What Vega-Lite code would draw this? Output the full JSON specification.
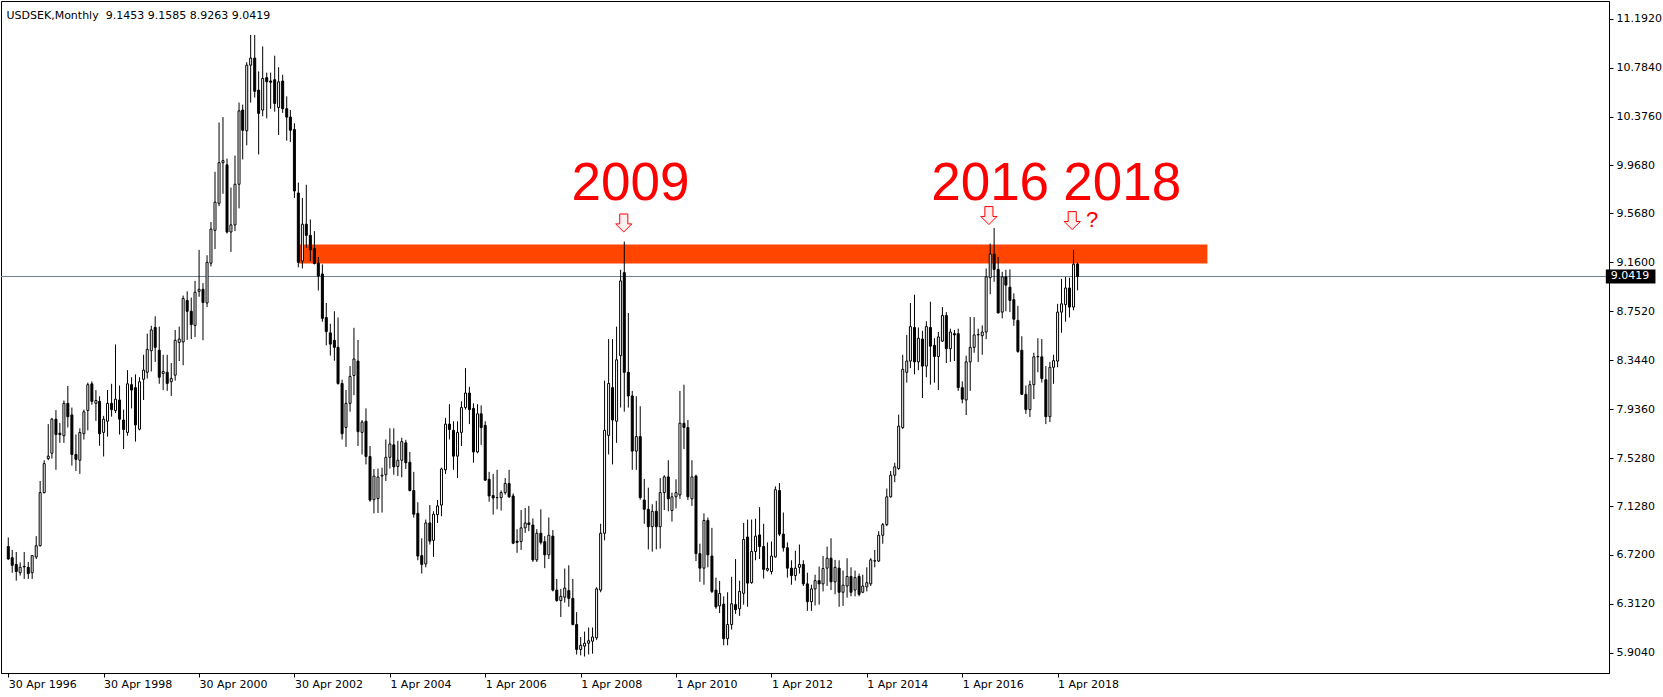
{
  "$schema": "https://vega.github.io/schema/vega-lite/v6.json",
  "width": 1608,
  "height": 672,
  "autosize": {"type": "none"},
  "padding": {"left": 1, "top": 1, "right": 54, "bottom": 24},
  "background": "#ffffff",
  "title": {"text": "USDSEK,Monthly\u00a0\u00a09.1453 9.1585 8.9263 9.0419", "anchor": "start", "orient": "top", "offset": -17, "baseline": "alphabetic", "font": "DejaVu Sans", "fontSize": 11, "fontWeight": "normal", "color": "#000000", "dx": 6, "dy": 12},
  "config": {
    "view": {"stroke": "#000000", "strokeWidth": 1},
    "axis": {"labelFont": "DejaVu Sans", "labelFontSize": 11, "labelColor": "#000000", "domainColor": "#000000", "tickColor": "#000000", "grid": false, "title": null}
  },
  "datasets": {
    "candles": [
      {"d":"1996-04-01","o":6.79,"h":6.866,"l":6.68,"c":6.686},
      {"d":"1996-05-01","o":6.697,"h":6.762,"l":6.572,"c":6.634},
      {"d":"1996-06-01","o":6.641,"h":6.745,"l":6.506,"c":6.582},
      {"d":"1996-07-01","o":6.572,"h":6.658,"l":6.548,"c":6.617},
      {"d":"1996-08-01","o":6.62,"h":6.745,"l":6.52,"c":6.625},
      {"d":"1996-09-01","o":6.617,"h":6.662,"l":6.52,"c":6.565},
      {"d":"1996-10-01","o":6.572,"h":6.72,"l":6.52,"c":6.714},
      {"d":"1996-11-01","o":6.703,"h":6.877,"l":6.686,"c":6.797},
      {"d":"1996-12-01","o":6.797,"h":7.337,"l":6.79,"c":7.24},
      {"d":"1997-01-01","o":7.24,"h":7.51,"l":7.233,"c":7.482},
      {"d":"1997-02-01","o":7.524,"h":7.811,"l":7.51,"c":7.544},
      {"d":"1997-03-01","o":7.568,"h":7.863,"l":7.524,"c":7.852},
      {"d":"1997-04-01","o":7.852,"h":7.928,"l":7.43,"c":7.724},
      {"d":"1997-05-01","o":7.735,"h":7.821,"l":7.655,"c":7.724},
      {"d":"1997-06-01","o":7.714,"h":8.008,"l":7.655,"c":7.984},
      {"d":"1997-07-01","o":7.984,"h":8.129,"l":7.783,"c":7.873},
      {"d":"1997-08-01","o":7.887,"h":7.949,"l":7.465,"c":7.558},
      {"d":"1997-09-01","o":7.558,"h":7.724,"l":7.42,"c":7.517},
      {"d":"1997-10-01","o":7.51,"h":7.776,"l":7.396,"c":7.741},
      {"d":"1997-11-01","o":7.731,"h":7.932,"l":7.683,"c":7.914},
      {"d":"1997-12-01","o":7.925,"h":8.157,"l":7.759,"c":8.14},
      {"d":"1998-01-01","o":8.147,"h":8.167,"l":7.973,"c":8.001},
      {"d":"1998-02-01","o":7.984,"h":8.095,"l":7.838,"c":8.008},
      {"d":"1998-03-01","o":8.001,"h":8.043,"l":7.631,"c":7.731},
      {"d":"1998-04-01","o":7.742,"h":7.88,"l":7.541,"c":7.852},
      {"d":"1998-05-01","o":7.835,"h":8.095,"l":7.707,"c":7.984},
      {"d":"1998-06-01","o":7.984,"h":8.147,"l":7.873,"c":7.932},
      {"d":"1998-07-01","o":7.925,"h":8.475,"l":7.904,"c":8.019},
      {"d":"1998-08-01","o":8.012,"h":8.133,"l":7.724,"c":7.852},
      {"d":"1998-09-01","o":7.845,"h":7.932,"l":7.603,"c":7.766},
      {"d":"1998-10-01","o":7.742,"h":8.261,"l":7.714,"c":8.147},
      {"d":"1998-11-01","o":8.14,"h":8.202,"l":7.942,"c":8.095},
      {"d":"1998-12-01","o":8.115,"h":8.226,"l":7.665,"c":7.804},
      {"d":"1999-01-01","o":7.769,"h":8.202,"l":7.759,"c":8.164},
      {"d":"1999-02-01","o":8.185,"h":8.389,"l":8.012,"c":8.261},
      {"d":"1999-03-01","o":8.243,"h":8.565,"l":8.191,"c":8.434},
      {"d":"1999-04-01","o":8.423,"h":8.631,"l":8.25,"c":8.596},
      {"d":"1999-05-01","o":8.617,"h":8.71,"l":8.33,"c":8.451},
      {"d":"1999-06-01","o":8.427,"h":8.624,"l":8.147,"c":8.202},
      {"d":"1999-07-01","o":8.233,"h":8.389,"l":8.095,"c":8.25},
      {"d":"1999-08-01","o":8.243,"h":8.389,"l":8.088,"c":8.15},
      {"d":"1999-09-01","o":8.164,"h":8.32,"l":8.046,"c":8.191},
      {"d":"1999-10-01","o":8.219,"h":8.596,"l":8.174,"c":8.51},
      {"d":"1999-11-01","o":8.492,"h":8.624,"l":8.337,"c":8.52},
      {"d":"1999-12-01","o":8.496,"h":8.883,"l":8.302,"c":8.859},
      {"d":"2000-01-01","o":8.842,"h":8.918,"l":8.513,"c":8.752},
      {"d":"2000-02-01","o":8.752,"h":8.866,"l":8.52,"c":8.641},
      {"d":"2000-03-01","o":8.634,"h":9.005,"l":8.537,"c":8.911},
      {"d":"2000-04-01","o":8.918,"h":9.264,"l":8.873,"c":8.935},
      {"d":"2000-05-01","o":8.935,"h":8.987,"l":8.51,"c":8.825},
      {"d":"2000-06-01","o":8.821,"h":9.219,"l":8.787,"c":9.16},
      {"d":"2000-07-01","o":9.153,"h":9.496,"l":9.126,"c":9.437},
      {"d":"2000-08-01","o":9.427,"h":9.915,"l":9.271,"c":9.662},
      {"d":"2000-09-01","o":9.652,"h":10.326,"l":9.628,"c":9.991},
      {"d":"2000-10-01","o":9.991,"h":10.371,"l":9.731,"c":10.008},
      {"d":"2000-11-01","o":9.973,"h":10.025,"l":9.4,"c":9.413},
      {"d":"2000-12-01","o":9.413,"h":9.783,"l":9.247,"c":9.472},
      {"d":"2001-01-01","o":9.472,"h":10.05,"l":9.42,"c":9.811},
      {"d":"2001-02-01","o":9.811,"h":10.492,"l":9.61,"c":10.423},
      {"d":"2001-03-01","o":10.43,"h":10.475,"l":10.018,"c":10.261},
      {"d":"2001-04-01","o":10.257,"h":10.828,"l":10.136,"c":10.804},
      {"d":"2001-05-01","o":10.804,"h":11.056,"l":10.492,"c":10.863},
      {"d":"2001-06-01","o":10.863,"h":11.056,"l":10.534,"c":10.586},
      {"d":"2001-07-01","o":10.596,"h":10.752,"l":10.06,"c":10.402},
      {"d":"2001-08-01","o":10.43,"h":10.96,"l":10.378,"c":10.693},
      {"d":"2001-09-01","o":10.7,"h":10.742,"l":10.361,"c":10.666},
      {"d":"2001-10-01","o":10.672,"h":10.742,"l":10.44,"c":10.662},
      {"d":"2001-11-01","o":10.683,"h":10.883,"l":10.416,"c":10.485},
      {"d":"2001-12-01","o":10.451,"h":10.787,"l":10.222,"c":10.665},
      {"d":"2002-01-01","o":10.672,"h":10.724,"l":10.406,"c":10.441},
      {"d":"2002-02-01","o":10.441,"h":10.544,"l":10.174,"c":10.371},
      {"d":"2002-03-01","o":10.371,"h":10.43,"l":10.164,"c":10.261},
      {"d":"2002-04-01","o":10.268,"h":10.32,"l":9.697,"c":9.755},
      {"d":"2002-05-01","o":9.738,"h":9.825,"l":9.119,"c":9.16},
      {"d":"2002-06-01","o":9.171,"h":9.697,"l":9.109,"c":9.478},
      {"d":"2002-07-01","o":9.478,"h":9.807,"l":9.281,"c":9.385},
      {"d":"2002-08-01","o":9.385,"h":9.517,"l":9.171,"c":9.264},
      {"d":"2002-09-01","o":9.274,"h":9.42,"l":9.143,"c":9.15},
      {"d":"2002-10-01","o":9.153,"h":9.205,"l":8.925,"c":9.046},
      {"d":"2002-11-01","o":9.063,"h":9.143,"l":8.665,"c":8.693},
      {"d":"2002-12-01","o":8.7,"h":8.821,"l":8.468,"c":8.582},
      {"d":"2003-01-01","o":8.572,"h":8.648,"l":8.382,"c":8.478},
      {"d":"2003-02-01","o":8.51,"h":8.752,"l":8.34,"c":8.451},
      {"d":"2003-03-01","o":8.451,"h":8.7,"l":8.14,"c":8.15},
      {"d":"2003-04-01","o":8.15,"h":8.181,"l":7.683,"c":7.731},
      {"d":"2003-05-01","o":7.783,"h":8.095,"l":7.621,"c":7.984},
      {"d":"2003-06-01","o":7.984,"h":8.295,"l":7.915,"c":8.209},
      {"d":"2003-07-01","o":8.216,"h":8.614,"l":8.053,"c":8.354},
      {"d":"2003-08-01","o":8.337,"h":8.513,"l":7.628,"c":7.748},
      {"d":"2003-09-01","o":7.742,"h":7.845,"l":7.558,"c":7.828},
      {"d":"2003-10-01","o":7.835,"h":7.942,"l":7.475,"c":7.541},
      {"d":"2003-11-01","o":7.541,"h":7.628,"l":7.164,"c":7.178},
      {"d":"2003-12-01","o":7.181,"h":7.437,"l":7.067,"c":7.378},
      {"d":"2004-01-01","o":7.19,"h":7.44,"l":7.07,"c":7.37},
      {"d":"2004-02-01","o":7.378,"h":7.448,"l":7.074,"c":7.385},
      {"d":"2004-03-01","o":7.389,"h":7.683,"l":7.337,"c":7.534},
      {"d":"2004-04-01","o":7.534,"h":7.776,"l":7.441,"c":7.645},
      {"d":"2004-05-01","o":7.638,"h":7.776,"l":7.389,"c":7.455},
      {"d":"2004-06-01","o":7.458,"h":7.672,"l":7.378,"c":7.51},
      {"d":"2004-07-01","o":7.51,"h":7.697,"l":7.368,"c":7.665},
      {"d":"2004-08-01","o":7.655,"h":7.68,"l":7.437,"c":7.489},
      {"d":"2004-09-01","o":7.493,"h":7.579,"l":7.25,"c":7.257},
      {"d":"2004-10-01","o":7.257,"h":7.413,"l":7.032,"c":7.06},
      {"d":"2004-11-01","o":7.067,"h":7.16,"l":6.676,"c":6.711},
      {"d":"2004-12-01","o":6.714,"h":6.859,"l":6.565,"c":6.641},
      {"d":"2005-01-01","o":6.645,"h":7.015,"l":6.617,"c":6.987},
      {"d":"2005-02-01","o":6.987,"h":7.136,"l":6.807,"c":6.835},
      {"d":"2005-03-01","o":6.842,"h":7.084,"l":6.704,"c":7.06},
      {"d":"2005-04-01","o":7.056,"h":7.178,"l":6.987,"c":7.129},
      {"d":"2005-05-01","o":7.136,"h":7.448,"l":7.043,"c":7.437},
      {"d":"2005-06-01","o":7.43,"h":7.863,"l":7.396,"c":7.811},
      {"d":"2005-07-01","o":7.811,"h":7.977,"l":7.683,"c":7.766},
      {"d":"2005-08-01","o":7.759,"h":7.835,"l":7.43,"c":7.544},
      {"d":"2005-09-01","o":7.544,"h":7.835,"l":7.361,"c":7.742},
      {"d":"2005-10-01","o":7.742,"h":8.001,"l":7.628,"c":7.949},
      {"d":"2005-11-01","o":7.949,"h":8.278,"l":7.932,"c":8.07},
      {"d":"2005-12-01","o":8.07,"h":8.122,"l":7.811,"c":7.932},
      {"d":"2006-01-01","o":7.942,"h":7.984,"l":7.489,"c":7.579},
      {"d":"2006-02-01","o":7.579,"h":7.977,"l":7.568,"c":7.897},
      {"d":"2006-03-01","o":7.897,"h":7.967,"l":7.638,"c":7.783},
      {"d":"2006-04-01","o":7.801,"h":7.835,"l":7.337,"c":7.344},
      {"d":"2006-05-01","o":7.351,"h":7.413,"l":7.164,"c":7.212},
      {"d":"2006-06-01","o":7.215,"h":7.396,"l":7.057,"c":7.195},
      {"d":"2006-07-01","o":7.198,"h":7.43,"l":7.101,"c":7.199},
      {"d":"2006-08-01","o":7.198,"h":7.257,"l":7.091,"c":7.24},
      {"d":"2006-09-01","o":7.24,"h":7.361,"l":7.223,"c":7.316},
      {"d":"2006-10-01","o":7.316,"h":7.43,"l":7.195,"c":7.205},
      {"d":"2006-11-01","o":7.212,"h":7.233,"l":6.81,"c":6.818},
      {"d":"2006-12-01","o":6.835,"h":6.935,"l":6.738,"c":6.825},
      {"d":"2007-01-01","o":6.831,"h":7.095,"l":6.762,"c":6.946},
      {"d":"2007-02-01","o":6.946,"h":7.112,"l":6.904,"c":6.987},
      {"d":"2007-03-01","o":6.987,"h":7.129,"l":6.918,"c":6.973},
      {"d":"2007-04-01","o":6.97,"h":7.025,"l":6.662,"c":6.679},
      {"d":"2007-05-01","o":6.679,"h":6.935,"l":6.662,"c":6.901},
      {"d":"2007-06-01","o":6.901,"h":7.101,"l":6.807,"c":6.825},
      {"d":"2007-07-01","o":6.831,"h":6.877,"l":6.61,"c":6.721},
      {"d":"2007-08-01","o":6.721,"h":7.032,"l":6.686,"c":6.884},
      {"d":"2007-09-01","o":6.877,"h":6.928,"l":6.416,"c":6.427},
      {"d":"2007-10-01","o":6.427,"h":6.52,"l":6.33,"c":6.34},
      {"d":"2007-11-01","o":6.34,"h":6.437,"l":6.202,"c":6.375},
      {"d":"2007-12-01","o":6.368,"h":6.607,"l":6.323,"c":6.444},
      {"d":"2008-01-01","o":6.423,"h":6.634,"l":6.288,"c":6.358},
      {"d":"2008-02-01","o":6.358,"h":6.52,"l":6.133,"c":6.14},
      {"d":"2008-03-01","o":6.14,"h":6.243,"l":5.89,"c":5.932},
      {"d":"2008-04-01","o":5.932,"h":6.036,"l":5.883,"c":5.967},
      {"d":"2008-05-01","o":5.96,"h":6.081,"l":5.873,"c":5.984},
      {"d":"2008-06-01","o":5.984,"h":6.115,"l":5.89,"c":6.005},
      {"d":"2008-07-01","o":6.001,"h":6.115,"l":5.897,"c":6.036},
      {"d":"2008-08-01","o":6.029,"h":6.451,"l":6.012,"c":6.437},
      {"d":"2008-09-01","o":6.427,"h":6.98,"l":6.409,"c":6.901},
      {"d":"2008-10-01","o":6.901,"h":8.174,"l":6.842,"c":7.759},
      {"d":"2008-11-01","o":7.717,"h":8.52,"l":7.558,"c":8.15},
      {"d":"2008-12-01","o":8.115,"h":8.52,"l":7.475,"c":7.845},
      {"d":"2009-01-01","o":7.835,"h":8.624,"l":7.655,"c":8.347},
      {"d":"2009-02-01","o":8.382,"h":9.098,"l":7.949,"c":9.005},
      {"d":"2009-03-01","o":9.074,"h":9.333,"l":7.915,"c":8.243},
      {"d":"2009-04-01","o":8.243,"h":8.738,"l":7.949,"c":8.046},
      {"d":"2009-05-01","o":8.046,"h":8.088,"l":7.43,"c":7.586},
      {"d":"2009-06-01","o":7.586,"h":8.043,"l":7.43,"c":7.707},
      {"d":"2009-07-01","o":7.707,"h":7.96,"l":7.181,"c":7.198},
      {"d":"2009-08-01","o":7.178,"h":7.354,"l":6.98,"c":7.101},
      {"d":"2009-09-01","o":7.101,"h":7.281,"l":6.766,"c":6.956},
      {"d":"2009-10-01","o":6.956,"h":7.143,"l":6.748,"c":7.084},
      {"d":"2009-11-01","o":7.084,"h":7.171,"l":6.766,"c":6.956},
      {"d":"2009-12-01","o":6.956,"h":7.361,"l":6.773,"c":7.24},
      {"d":"2010-01-01","o":7.24,"h":7.385,"l":7.095,"c":7.371},
      {"d":"2010-02-01","o":7.371,"h":7.51,"l":7.084,"c":7.188},
      {"d":"2010-03-01","o":7.091,"h":7.24,"l":6.998,"c":7.205},
      {"d":"2010-04-01","o":7.205,"h":7.351,"l":7.108,"c":7.24},
      {"d":"2010-05-01","o":7.22,"h":8.088,"l":7.188,"c":7.818},
      {"d":"2010-06-01","o":7.818,"h":8.14,"l":7.603,"c":7.783},
      {"d":"2010-07-01","o":7.783,"h":7.845,"l":7.178,"c":7.205},
      {"d":"2010-08-01","o":7.188,"h":7.51,"l":7.129,"c":7.371},
      {"d":"2010-09-01","o":7.378,"h":7.389,"l":6.669,"c":6.731},
      {"d":"2010-10-01","o":6.731,"h":6.814,"l":6.496,"c":6.61},
      {"d":"2010-11-01","o":6.61,"h":7.067,"l":6.472,"c":7.008},
      {"d":"2010-12-01","o":7.008,"h":7.032,"l":6.617,"c":6.721},
      {"d":"2011-01-01","o":6.711,"h":6.946,"l":6.402,"c":6.416},
      {"d":"2011-02-01","o":6.427,"h":6.531,"l":6.271,"c":6.288},
      {"d":"2011-03-01","o":6.295,"h":6.503,"l":6.236,"c":6.399},
      {"d":"2011-04-01","o":6.31,"h":6.375,"l":5.967,"c":6.022},
      {"d":"2011-05-01","o":6.022,"h":6.409,"l":5.967,"c":6.14},
      {"d":"2011-06-01","o":6.14,"h":6.538,"l":6.098,"c":6.313},
      {"d":"2011-07-01","o":6.306,"h":6.686,"l":6.229,"c":6.264},
      {"d":"2011-08-01","o":6.271,"h":6.506,"l":6.212,"c":6.416},
      {"d":"2011-09-01","o":6.4,"h":6.987,"l":6.306,"c":6.849},
      {"d":"2011-10-01","o":6.87,"h":7.015,"l":6.288,"c":6.485},
      {"d":"2011-11-01","o":6.489,"h":7.015,"l":6.48,"c":6.749},
      {"d":"2011-12-01","o":6.749,"h":7.022,"l":6.676,"c":6.877},
      {"d":"2012-01-01","o":6.887,"h":7.119,"l":6.686,"c":6.79},
      {"d":"2012-02-01","o":6.79,"h":6.98,"l":6.524,"c":6.6},
      {"d":"2012-03-01","o":6.593,"h":6.825,"l":6.582,"c":6.607},
      {"d":"2012-04-01","o":6.582,"h":6.832,"l":6.558,"c":6.711},
      {"d":"2012-05-01","o":6.704,"h":7.292,"l":6.697,"c":7.264},
      {"d":"2012-06-01","o":7.257,"h":7.32,"l":6.877,"c":6.894},
      {"d":"2012-07-01","o":6.894,"h":7.074,"l":6.748,"c":6.78},
      {"d":"2012-08-01","o":6.78,"h":6.825,"l":6.531,"c":6.61},
      {"d":"2012-09-01","o":6.61,"h":6.676,"l":6.472,"c":6.548},
      {"d":"2012-10-01","o":6.548,"h":6.755,"l":6.506,"c":6.61},
      {"d":"2012-11-01","o":6.617,"h":6.807,"l":6.565,"c":6.641},
      {"d":"2012-12-01","o":6.641,"h":6.676,"l":6.461,"c":6.479},
      {"d":"2013-01-01","o":6.479,"h":6.572,"l":6.254,"c":6.33},
      {"d":"2013-02-01","o":6.33,"h":6.472,"l":6.254,"c":6.437},
      {"d":"2013-03-01","o":6.437,"h":6.555,"l":6.299,"c":6.506},
      {"d":"2013-04-01","o":6.506,"h":6.624,"l":6.306,"c":6.479},
      {"d":"2013-05-01","o":6.479,"h":6.711,"l":6.416,"c":6.607},
      {"d":"2013-06-01","o":6.61,"h":6.79,"l":6.461,"c":6.693},
      {"d":"2013-07-01","o":6.693,"h":6.859,"l":6.427,"c":6.496},
      {"d":"2013-08-01","o":6.496,"h":6.679,"l":6.392,"c":6.617},
      {"d":"2013-09-01","o":6.61,"h":6.676,"l":6.288,"c":6.409},
      {"d":"2013-10-01","o":6.409,"h":6.59,"l":6.295,"c":6.468},
      {"d":"2013-11-01","o":6.461,"h":6.693,"l":6.364,"c":6.541},
      {"d":"2013-12-01","o":6.541,"h":6.617,"l":6.375,"c":6.409},
      {"d":"2014-01-01","o":6.427,"h":6.59,"l":6.375,"c":6.531},
      {"d":"2014-02-01","o":6.541,"h":6.565,"l":6.375,"c":6.392},
      {"d":"2014-03-01","o":6.409,"h":6.555,"l":6.402,"c":6.461},
      {"d":"2014-04-01","o":6.454,"h":6.617,"l":6.416,"c":6.489},
      {"d":"2014-05-01","o":6.479,"h":6.693,"l":6.461,"c":6.679},
      {"d":"2014-06-01","o":6.669,"h":6.762,"l":6.617,"c":6.672},
      {"d":"2014-07-01","o":6.669,"h":6.918,"l":6.662,"c":6.884},
      {"d":"2014-08-01","o":6.884,"h":6.987,"l":6.814,"c":6.973},
      {"d":"2014-09-01","o":6.973,"h":7.274,"l":6.96,"c":7.205},
      {"d":"2014-10-01","o":7.205,"h":7.42,"l":7.198,"c":7.385},
      {"d":"2014-11-01","o":7.385,"h":7.489,"l":7.327,"c":7.455},
      {"d":"2014-12-01","o":7.441,"h":7.89,"l":7.43,"c":7.794},
      {"d":"2015-01-01","o":7.783,"h":8.389,"l":7.77,"c":8.268},
      {"d":"2015-02-01","o":8.243,"h":8.555,"l":8.157,"c":8.337},
      {"d":"2015-03-01","o":8.337,"h":8.821,"l":8.278,"c":8.624},
      {"d":"2015-04-01","o":8.617,"h":8.89,"l":8.226,"c":8.33},
      {"d":"2015-05-01","o":8.33,"h":8.617,"l":8.261,"c":8.527},
      {"d":"2015-06-01","o":8.52,"h":8.589,"l":8.029,"c":8.295},
      {"d":"2015-07-01","o":8.295,"h":8.669,"l":8.202,"c":8.624},
      {"d":"2015-08-01","o":8.617,"h":8.832,"l":8.14,"c":8.461},
      {"d":"2015-09-01","o":8.468,"h":8.527,"l":8.157,"c":8.375},
      {"d":"2015-10-01","o":8.375,"h":8.579,"l":8.095,"c":8.538},
      {"d":"2015-11-01","o":8.503,"h":8.787,"l":8.496,"c":8.717},
      {"d":"2015-12-01","o":8.717,"h":8.745,"l":8.32,"c":8.44},
      {"d":"2016-01-01","o":8.44,"h":8.607,"l":8.33,"c":8.579},
      {"d":"2016-02-01","o":8.565,"h":8.596,"l":8.337,"c":8.555},
      {"d":"2016-03-01","o":8.565,"h":8.607,"l":8.088,"c":8.115},
      {"d":"2016-04-01","o":8.115,"h":8.167,"l":7.984,"c":8.019},
      {"d":"2016-05-01","o":8.012,"h":8.382,"l":7.887,"c":8.33},
      {"d":"2016-06-01","o":8.33,"h":8.704,"l":8.088,"c":8.451},
      {"d":"2016-07-01","o":8.451,"h":8.704,"l":8.406,"c":8.555},
      {"d":"2016-08-01","o":8.555,"h":8.607,"l":8.33,"c":8.558},
      {"d":"2016-09-01","o":8.548,"h":8.634,"l":8.389,"c":8.579},
      {"d":"2016-10-01","o":8.579,"h":9.109,"l":8.52,"c":9.039},
      {"d":"2016-11-01","o":9.032,"h":9.316,"l":8.894,"c":9.229},
      {"d":"2016-12-01","o":9.229,"h":9.447,"l":8.998,"c":9.101},
      {"d":"2017-01-01","o":9.101,"h":9.205,"l":8.735,"c":8.738},
      {"d":"2017-02-01","o":8.745,"h":9.081,"l":8.693,"c":9.039},
      {"d":"2017-03-01","o":9.039,"h":9.098,"l":8.752,"c":8.97},
      {"d":"2017-04-01","o":8.953,"h":9.101,"l":8.745,"c":8.842},
      {"d":"2017-05-01","o":8.849,"h":8.901,"l":8.631,"c":8.686},
      {"d":"2017-06-01","o":8.676,"h":8.797,"l":8.406,"c":8.417},
      {"d":"2017-07-01","o":8.427,"h":8.544,"l":8.053,"c":8.06},
      {"d":"2017-08-01","o":8.06,"h":8.133,"l":7.897,"c":7.932},
      {"d":"2017-09-01","o":7.932,"h":8.174,"l":7.87,"c":8.14},
      {"d":"2017-10-01","o":8.14,"h":8.406,"l":8.019,"c":8.372},
      {"d":"2017-11-01","o":8.372,"h":8.527,"l":8.243,"c":8.375},
      {"d":"2017-12-01","o":8.372,"h":8.52,"l":8.157,"c":8.191},
      {"d":"2018-01-01","o":8.181,"h":8.295,"l":7.811,"c":7.873},
      {"d":"2018-02-01","o":7.873,"h":8.33,"l":7.828,"c":8.285},
      {"d":"2018-03-01","o":8.285,"h":8.389,"l":8.147,"c":8.34},
      {"d":"2018-04-01","o":8.337,"h":8.814,"l":8.285,"c":8.745},
      {"d":"2018-05-01","o":8.745,"h":9.022,"l":8.572,"c":8.814},
      {"d":"2018-06-01","o":8.807,"h":9.039,"l":8.665,"c":8.946},
      {"d":"2018-07-01","o":8.946,"h":9.032,"l":8.7,"c":8.787},
      {"d":"2018-08-01","o":8.787,"h":9.264,"l":8.76,"c":9.1453},
      {"d":"2018-09-01","o":9.1453,"h":9.1585,"l":8.9263,"c":9.0419}
    ]
  },
  "layer": [
    {
      "data": {"values": [{"start": "2002-05-07", "end": "2021-05-22", "lo": 9.15, "hi": 9.308}]},
      "mark": {"type": "rect", "color": "#FF4500"},
      "encoding": {
        "x": {"field": "start", "type": "temporal", "scale": {"type": "utc", "domain": [{"year": 1996, "month": 3, "date": 14, "hours": 12, "utc": true}, {"year": 2029, "month": 9, "date": 14, "utc": true}]}, "axis": {"orient": "bottom", "values": [{"year": 1996, "month": 4, "date": 1, "utc": true}, {"year": 1998, "month": 4, "date": 1, "utc": true}, {"year": 2000, "month": 4, "date": 1, "utc": true}, {"year": 2002, "month": 4, "date": 1, "utc": true}, {"year": 2004, "month": 4, "date": 1, "utc": true}, {"year": 2006, "month": 4, "date": 1, "utc": true}, {"year": 2008, "month": 4, "date": 1, "utc": true}, {"year": 2010, "month": 4, "date": 1, "utc": true}, {"year": 2012, "month": 4, "date": 1, "utc": true}, {"year": 2014, "month": 4, "date": 1, "utc": true}, {"year": 2016, "month": 4, "date": 1, "utc": true}, {"year": 2018, "month": 4, "date": 1, "utc": true}], "labelExpr": "(utcyear(datum.value) <= 2002 ? '30 Apr ' : '1 Apr ') + utcyear(datum.value)", "labelAlign": "left", "labelBaseline": "top", "labelPadding": 1, "tickSize": 4, "labelOverlap": false, "labelFlush": false, "labelBound": false}},
        "x2": {"field": "end"},
        "y": {"field": "lo", "type": "quantitative", "scale": {"domain": [5.73578, 11.33908], "nice": false, "zero": false}, "axis": {"orient": "right", "values": [11.192, 10.784, 10.376, 9.968, 9.568, 9.16, 8.752, 8.344, 7.936, 7.528, 7.128, 6.72, 6.312, 5.904], "format": ".4f", "tickSize": 4, "labelPadding": 3}},
        "y2": {"field": "hi"}
      }
    },
    {
      "data": {"values": [{"p": 9.0419}]},
      "mark": {"type": "rule", "color": "#6f8193", "strokeWidth": 1},
      "encoding": {
        "y": {"field": "p", "type": "quantitative", "scale": {"domain": [5.73578, 11.33908], "nice": false, "zero": false}}
      }
    },
    {
      "data": {"name": "candles"},
      "mark": {"type": "rule", "color": "#000000", "strokeWidth": 1},
      "encoding": {
        "x": {"field": "d", "type": "temporal", "scale": {"type": "utc", "domain": [{"year": 1996, "month": 3, "date": 14, "hours": 12, "utc": true}, {"year": 2029, "month": 9, "date": 14, "utc": true}]}},
        "y": {"field": "l", "type": "quantitative", "scale": {"domain": [5.73578, 11.33908], "nice": false, "zero": false}},
        "y2": {"field": "h"}
      }
    },
    {
      "data": {"name": "candles"},
      "mark": {"type": "bar", "size": 2, "stroke": "#000000", "strokeWidth": 1, "orient": "vertical"},
      "encoding": {
        "x": {"field": "d", "type": "temporal", "scale": {"type": "utc", "domain": [{"year": 1996, "month": 3, "date": 14, "hours": 12, "utc": true}, {"year": 2029, "month": 9, "date": 14, "utc": true}]}},
        "y": {"field": "o", "type": "quantitative", "scale": {"domain": [5.73578, 11.33908], "nice": false, "zero": false}},
        "y2": {"field": "c"},
        "fill": {"condition": {"test": "datum.c < datum.o", "value": "#000000"}, "value": "#ffffff"}
      }
    },
    {
      "data": {"values": [{"start": "2029-09-28", "end": "2030-10-13", "lo": 8.984, "hi": 9.1}]},
      "mark": {"type": "rect", "color": "#000000", "clip": false},
      "encoding": {
        "x": {"field": "start", "type": "temporal"},
        "x2": {"field": "end"},
        "y": {"field": "lo", "type": "quantitative"},
        "y2": {"field": "hi"}
      }
    },
    {
      "data": {"values": [{"d": "2029-11-05", "p": 9.0419, "t": "9.0419"}]},
      "mark": {"type": "text", "color": "#ffffff", "font": "DejaVu Sans", "fontSize": 11, "align": "left", "baseline": "middle", "clip": false},
      "encoding": {
        "x": {"field": "d", "type": "temporal"},
        "y": {"field": "p", "type": "quantitative"},
        "text": {"field": "t"}
      }
    },
    {
      "data": {"values": [{"d": "2008-01-22", "p": 9.679, "t": "2009"}, {"d": "2015-08-07", "p": 9.679, "t": "2016"}, {"d": "2018-05-15", "p": 9.679, "t": "2018"}]},
      "mark": {"type": "text", "color": "#FF0000", "font": "Liberation Sans", "fontSize": 53, "align": "left", "baseline": "alphabetic"},
      "encoding": {
        "x": {"field": "d", "type": "temporal"},
        "y": {"field": "p", "type": "quantitative"},
        "text": {"field": "t"}
      }
    },
    {
      "data": {"values": [{"d": "2009-02-25", "p": 9.488}, {"d": "2016-10-22", "p": 9.55}, {"d": "2018-07-22", "p": 9.508}]},
      "mark": {"type": "point", "shape": "M -0.45 -1 L 0.45 -1 L 0.45 0.1 L 0.9 0.1 L 0 1 L -0.9 0.1 L -0.45 0.1 Z", "size": 324, "filled": true, "fill": "#fff0f0", "stroke": "#FF0000", "strokeWidth": 1, "opacity": 1},
      "encoding": {
        "x": {"field": "d", "type": "temporal"},
        "y": {"field": "p", "type": "quantitative"}
      }
    },
    {
      "data": {"values": [{"d": "2018-11-04", "p": 9.458, "t": "?"}]},
      "mark": {"type": "text", "color": "#FF0000", "font": "Liberation Sans", "fontSize": 22, "align": "left", "baseline": "alphabetic"},
      "encoding": {
        "x": {"field": "d", "type": "temporal"},
        "y": {"field": "p", "type": "quantitative"},
        "text": {"field": "t"}
      }
    }
  ]
}
